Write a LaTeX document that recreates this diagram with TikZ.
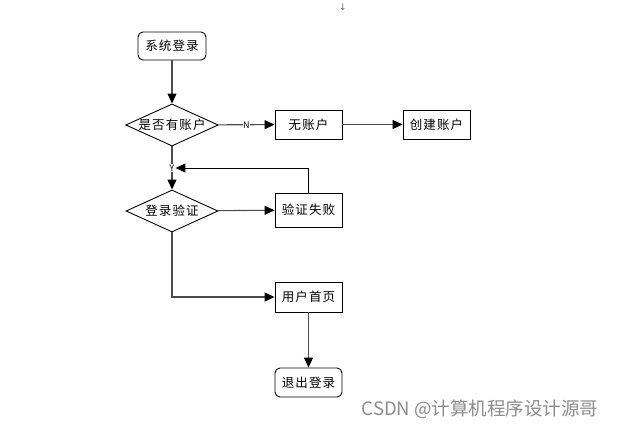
\documentclass[tikz,border=0pt]{standalone}
\usepackage{fontspec}
\setmainfont{Noto Sans CJK SC}
\newfontfamily\boxfont{Noto Sans CJK SC}[LetterSpace=9]
\newfontfamily\symfont{DejaVu Sans}
\usetikzlibrary{arrows.meta,shapes.geometric}
\tikzset{
  flowbox/.style={draw,line width=0.9pt,minimum width=67pt,minimum height=29pt,inner sep=0pt,font=\boxfont\fontsize{12.5}{14}\selectfont},
  endbox/.style={flowbox,rounded corners=5pt},
  choice/.style={draw,line width=0.9pt,diamond,aspect=2.2,minimum width=92pt,minimum height=42pt,inner sep=0pt,font=\boxfont\fontsize{12.5}{14}\selectfont},
  flow/.style={draw=black!70,line width=1.1pt,-{Triangle[width=9pt,length=10pt,color=black]}},
  tag/.style={fill=white,inner sep=0.5pt,font=\fontsize{9}{10}\selectfont}
}
\begin{document}
\begin{tikzpicture}[x=1pt,y=-1pt]
\useasboundingbox (0,0) rectangle (621,428);
\node[text=black!60,font=\symfont\fontsize{9}{10}\selectfont] (mark) at (343,7) {↓};
\node[endbox,minimum width=68pt,minimum height=28pt] (start) at (172,46) {系统登录};
\node[choice] (hasacc) at (172,125) {是否有账户};
\node[flowbox] (noacc) at (308.5,124.5) {无账户};
\node[flowbox] (create) at (436.5,124.5) {创建账户};
\node[choice] (check) at (172,211) {登录验证};
\node[flowbox,minimum height=34pt] (fail) at (308.5,210) {验证失败};
\node[flowbox,minimum height=30pt] (home) at (308.5,297) {用户首页};
\node[endbox] (logout) at (308.5,382.5) {退出登录};
% connectors
\draw[flow] (start) -- (hasacc);
\draw[flow] (hasacc) -- node[tag] {N} (noacc);
\draw[flow] (noacc) -- (create);
\draw[flow] (hasacc) -- node[tag,pos=0.5] (yes) {Y} (check);
\draw[flow,draw=black,line width=0.9pt] (fail.north) |- (yes.east);
\draw[flow] (check) -- (fail);
\draw[flow] (check.south) |- (home.west);
\draw[flow] (home) -- (logout);
\node[text=black!45,font=\fontsize{18.5}{20}\selectfont] (water) at (480,409) {CSDN @计算机程序设计源哥};
\end{tikzpicture}
\end{document}
